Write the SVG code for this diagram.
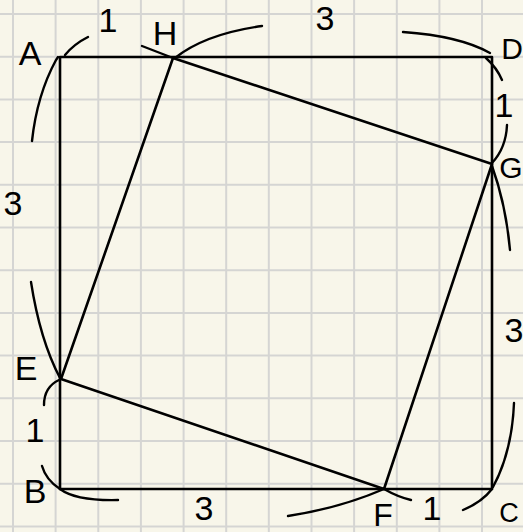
<svg xmlns="http://www.w3.org/2000/svg" width="523" height="532" viewBox="0 0 523 532">
<style>
.grid line{stroke:#d5d5d3;stroke-width:2}
.ln{fill:none;stroke:#000;stroke-width:2.6;stroke-linecap:round;stroke-linejoin:round}
.br{fill:none;stroke:#000;stroke-width:2.4;stroke-linecap:round}
text{font-family:"Liberation Sans",Arial,sans-serif;font-size:34px;fill:#000;text-anchor:middle}
</style>
<rect width="523" height="532" fill="#f8f6ea"/>
<g class="grid">
<line x1="13" y1="0" x2="13" y2="532"/><line x1="55.6" y1="0" x2="55.6" y2="532"/><line x1="98.3" y1="0" x2="98.3" y2="532"/><line x1="140.9" y1="0" x2="140.9" y2="532"/><line x1="183.6" y1="0" x2="183.6" y2="532"/><line x1="226.2" y1="0" x2="226.2" y2="532"/><line x1="268.8" y1="0" x2="268.8" y2="532"/><line x1="311.5" y1="0" x2="311.5" y2="532"/><line x1="354.1" y1="0" x2="354.1" y2="532"/><line x1="396.8" y1="0" x2="396.8" y2="532"/><line x1="439.4" y1="0" x2="439.4" y2="532"/><line x1="482" y1="0" x2="482" y2="532"/>
<line x1="0" y1="14" x2="523" y2="14"/><line x1="0" y1="56.7" x2="523" y2="56.7"/><line x1="0" y1="99.4" x2="523" y2="99.4"/><line x1="0" y1="142.1" x2="523" y2="142.1"/><line x1="0" y1="184.8" x2="523" y2="184.8"/><line x1="0" y1="227.5" x2="523" y2="227.5"/><line x1="0" y1="270.2" x2="523" y2="270.2"/><line x1="0" y1="312.9" x2="523" y2="312.9"/><line x1="0" y1="355.6" x2="523" y2="355.6"/><line x1="0" y1="398.3" x2="523" y2="398.3"/><line x1="0" y1="441" x2="523" y2="441"/><line x1="0" y1="483.7" x2="523" y2="483.7"/><line x1="0" y1="526.4" x2="523" y2="526.4"/>
</g>
<g id="square-ABCD"><path class="ln" d="M60,57 H492 V489 H60 Z"/></g>
<g id="square-EFGH"><path class="ln" d="M173,58 L492,164 L384,489 L61,379 Z"/></g>
<g id="connectors">
<path class="br" d="M65,55 Q74,44 88,37"/>
<path class="br" d="M142,46 L173,58"/>
<path class="br" d="M175,58 Q205,34 262,26"/>
<path class="br" d="M403,32 Q460,36 490,53"/>
<path class="br" d="M486,58 Q497,68 502,80"/>
<path class="br" d="M507,125 Q506,148 492,163"/>
<path class="br" d="M492,166 Q506,205 510,250"/>
<path class="br" d="M514,403 Q512,452 493,487"/>
<path class="br" d="M463,510 Q482,502 492,489"/>
<path class="br" d="M384,489 Q398,497 411,500"/>
<path class="br" d="M384,489 Q340,508 288,516"/>
<path class="br" d="M118,500 Q76,501 60,489"/>
<path class="br" d="M60,489 Q46,480 42,466"/>
<path class="br" d="M44,405 Q44,387 59,380"/>
<path class="br" d="M60,378 Q40,340 31,282"/>
<path class="br" d="M32,141 Q37,95 56,60 L58,57"/>
</g>
<g id="labels">
<text x="30" y="65">A</text>
<text x="108" y="32">1</text>
<text x="165" y="45">H</text>
<text x="325" y="30">3</text>
<text x="512" y="59" style="font-size:30px">D</text>
<text x="504" y="117">1</text>
<text x="511" y="178" style="font-size:30px">G</text>
<text x="13" y="215">3</text>
<text x="26" y="380">E</text>
<text x="35" y="442">1</text>
<text x="35" y="503">B</text>
<text x="204" y="520">3</text>
<text x="383" y="526" style="font-size:32px">F</text>
<text x="432" y="520">1</text>
<text x="509" y="522" style="font-size:27px">C</text>
<text x="514" y="342">3</text>
</g>
</svg>
